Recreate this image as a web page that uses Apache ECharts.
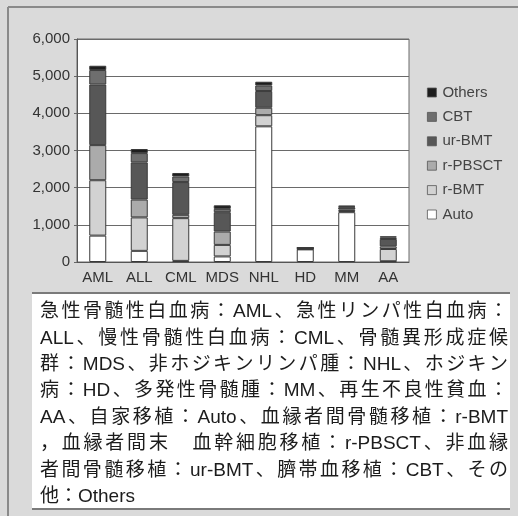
<!DOCTYPE html>
<html>
<head>
<meta charset="utf-8">
<script src="https://cdn.jsdelivr.net/npm/echarts@6/dist/echarts.min.js"></script>
<style>
html,body{margin:0;padding:0;background:#dadada;}
#main{width:518px;height:516px;}
</style>
</head>
<body>
<div id="main"></div>
<script>
// ---- data ----
const categories = ['AML', 'ALL', 'CML', 'MDS', 'NHL', 'HD', 'MM', 'AA'];
const autoVals   = [710, 300, 30, 150, 3650, 340, 1340, 20];
const rBMT       = [1490, 900, 1150, 310, 300, 10, 30, 330];
const rPBSCT     = [945, 480, 90, 360, 200, 10, 40, 70];
const urBMT      = [1630, 1000, 880, 520, 450, 15, 60, 200];
const cbt        = [390, 250, 150, 90, 150, 5, 20, 40];
const others     = [115, 110, 95, 95, 100, 10, 25, 30];
const seriesNames = ['Auto', 'r-BMT', 'r-PBSCT', 'ur-BMT', 'CBT', 'Others'];
const legendOrder = ['Others', 'CBT', 'ur-BMT', 'r-PBSCT', 'r-BMT', 'Auto'];
const captionLines = [
  '急性骨髄性白血病：AML、急性リンパ性白血病：',
  'ALL、慢性骨髄性白血病：CML、骨髄異形成症候',
  '群：MDS、非ホジキンリンパ腫：NHL、ホジキン',
  '病：HD、多発性骨髄腫：MM、再生不良性貧血：',
  'AA、自家移植：Auto、血縁者間骨髄移植：r-BMT',
  '，血縁者間末　血幹細胞移植：r-PBSCT、非血縁',
  '者間骨髄移植：ur-BMT、臍帯血移植：CBT、その',
  '他：Others'
];

// ---- styles ----
const colors = ['#ffffff', '#d2d2d2', '#ababab', '#575757', '#6e6e6e', '#1e1e1e'];
const valueSets = [autoVals, rBMT, rPBSCT, urBMT, cbt, others];

const chart = echarts.init(document.getElementById('main'), null, {renderer: 'canvas'});

// caption layout (justified)
const capFont = '19px "Liberation Sans", "Noto Sans CJK JP"';
const ctx = document.createElement('canvas').getContext('2d');
ctx.font = capFont;
function tokenize(s) {
  const out = [];
  let buf = '';
  for (const ch of s) {
    if (/[A-Za-z0-9\-]/.test(ch)) { buf += ch; }
    else { if (buf) { out.push(buf); buf = ''; } out.push(ch); }
  }
  if (buf) out.push(buf);
  return out;
}
const capLeft = 40, capRight = 508, capTop = 312, capStep = 26.4;
const graphics = [
  {type: 'rect', shape: {x: 32, y: 293, width: 478, height: 216}, style: {fill: '#ffffff'}, z: 0},
  {type: 'line', shape: {x1: 32, y1: 293, x2: 510, y2: 293}, style: {stroke: '#7a7a7a', lineWidth: 2}, z: 1},
  {type: 'line', shape: {x1: 32, y1: 509, x2: 510, y2: 509}, style: {stroke: '#7a7a7a', lineWidth: 2}, z: 1},
  {type: 'line', shape: {x1: 8, y1: 7, x2: 518, y2: 7}, style: {stroke: '#8a8a8a', lineWidth: 2}, z: 1},
  {type: 'line', shape: {x1: 8, y1: 7, x2: 8, y2: 516}, style: {stroke: '#8a8a8a', lineWidth: 2}, z: 1}
];
captionLines.forEach((line, i) => {
  const toks = tokenize(line);
  const widths = toks.map(t => ctx.measureText(t).width);
  const total = widths.reduce((a, b) => a + b, 0);
  const justify = i < captionLines.length - 1;
  const gap = justify && toks.length > 1 ? (capRight - capLeft - total) / (toks.length - 1) : 0;
  let x = capLeft;
  toks.forEach((t, k) => {
    graphics.push({
      type: 'text', x: x, y: capTop + i * capStep, z: 2,
      style: {text: t, font: capFont, fill: '#1c1c1c', verticalAlign: 'middle', align: 'left'}
    });
    x += widths[k] + gap;
  });
});

const option = {
  animation: false,
  backgroundColor: '#dadada',
  grid: {left: 77, top: 39, right: 109, bottom: 254, show: true, backgroundColor: '#ffffff', borderColor: '#6a6a6a', borderWidth: 1},
  legend: {
    data: legendOrder,
    orient: 'vertical',
    left: 422, top: 80,
    itemWidth: 9, itemHeight: 9, itemGap: 9.4,
    icon: 'rect',
    itemStyle: {borderColor: '#555', borderWidth: 0.8},
    textStyle: {fontSize: 15, color: '#444', fontFamily: 'Liberation Sans', lineHeight: 15, padding: [0, 0, 0, 1]}
  },
  xAxis: {
    type: 'category',
    data: categories,
    axisLine: {lineStyle: {color: '#555', width: 1}},
    axisTick: {inside: true, length: 5, lineStyle: {color: '#666'}},
    axisLabel: {interval: 0, fontSize: 15, color: '#333', fontFamily: 'Liberation Sans', margin: 8}
  },
  yAxis: {
    type: 'value', min: 0, max: 6000, interval: 1000,
    axisLine: {show: true, lineStyle: {color: '#555'}},
    axisTick: {show: true, length: 3, lineStyle: {color: '#666'}},
    splitLine: {lineStyle: {color: '#6a6a6a', width: 1}},
    axisLabel: {fontSize: 15, color: '#333', fontFamily: 'Liberation Sans', margin: 7,
      formatter: v => v.toLocaleString('en-US')}
  },
  series: seriesNames.map((n, i) => ({
    name: n, type: 'bar', stack: 'total', barWidth: 17,
    data: valueSets[i],
    itemStyle: {color: colors[i], borderColor: '#3a3a3a', borderWidth: 1}
  })),
  graphic: graphics
};
chart.setOption(option);
</script>
</body>
</html>
